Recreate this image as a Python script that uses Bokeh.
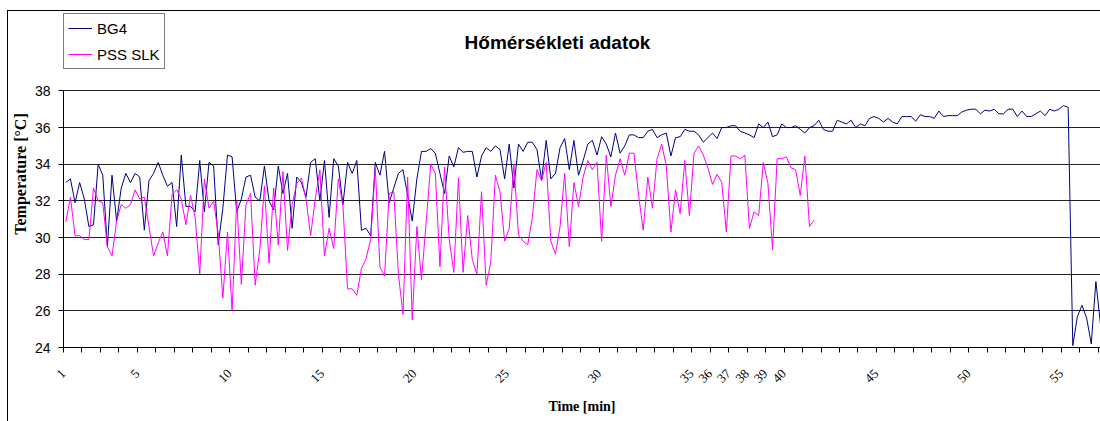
import math
from bokeh.plotting import figure
from bokeh.models import Range1d, FixedTicker, Legend, LegendItem, Label
from bokeh.embed import file_html
from bokeh.resources import INLINE

# ---- data (15-second samples, 4 per minute) ----
bg4 = [
    33.0, 33.2, 31.9, 33.0, 32.1, 30.6, 30.7, 34.0, 33.4, 29.5,
    33.4, 30.9, 32.7, 33.5, 33.0, 33.5, 33.3, 30.4, 33.1, 33.5,
    34.1, 33.4, 32.8, 33.0, 30.6, 34.5, 31.7, 31.7, 31.4, 34.2,
    31.4, 34.1, 33.9, 29.6, 31.6, 34.5, 34.4, 31.4, 32.1, 33.3,
    33.4, 32.2, 32.0, 33.9, 32.0, 31.5, 33.9, 32.4, 33.5, 30.5,
    33.3, 33.0, 32.2, 34.1, 34.3, 32.0, 34.2, 31.1, 34.3, 33.9,
    31.8, 34.1, 33.5, 34.2, 30.4, 30.5, 30.1, 34.1, 33.4, 34.7,
    31.9, 32.7, 33.5, 33.7, 32.3, 30.9, 33.2, 34.7, 34.7, 34.85,
    34.6, 33.5, 32.4, 34.45, 33.85, 34.9, 34.65, 34.7, 34.7, 33.3,
    34.45, 34.9, 34.7, 35.0, 34.8, 33.2, 35.1, 32.7, 35.1, 34.7,
    35.2, 35.2, 34.8, 33.15, 35.3, 33.2, 33.5, 34.9, 35.4, 33.7,
    35.3, 33.4, 34.2, 35.1, 35.3, 34.5, 35.5, 35.1, 34.4, 35.7,
    34.6, 35.0, 35.6, 35.6, 35.45, 35.45, 35.8, 35.9, 35.45, 35.6,
    35.7, 34.45, 35.45, 35.5, 35.9, 35.8, 35.8, 35.6, 35.2, 35.45,
    35.7, 35.4, 36.0, 36.0, 36.1, 36.1, 35.8, 35.7, 35.6, 35.45,
    36.2, 36.0, 36.3, 35.5, 35.6, 36.2, 36.0, 36.0, 36.1, 35.9,
    35.7, 36.0, 36.1, 36.4, 35.9, 35.8, 35.8, 36.4, 36.3, 36.2,
    36.4, 36.0, 36.2, 36.1, 36.5, 36.6, 36.5, 36.3, 36.5, 36.3,
    36.2, 36.6, 36.6, 36.6, 36.35, 36.7, 36.6, 36.6, 36.5, 36.9,
    36.6, 36.65, 36.65, 36.65, 36.85, 36.95, 37.0, 37.0, 36.75, 36.95,
    36.9, 37.0, 36.75, 36.75, 37.0, 37.0, 36.6, 36.9, 36.6, 36.6,
    36.75, 36.9, 36.65, 37.0, 36.9, 37.0, 37.2, 37.1, 24.1, 25.7,
    26.3, 25.6, 24.2, 27.6, 25.25,
]
pss_slk = [
    30.85, 32.2, 30.1, 30.1, 29.9, 29.9, 32.7, 32.0, 31.9, 29.5,
    29.0, 30.9, 31.8, 31.6, 31.8, 32.6, 32.1, 32.2, 30.6, 29.0,
    29.7, 30.3, 29.0, 32.35, 32.6, 32.1, 30.7, 32.3, 31.1, 28.0,
    33.2, 31.6, 32.0, 30.2, 26.7, 30.3, 26.0, 32.0, 27.45, 31.8,
    32.4, 27.4, 29.35, 32.8, 28.6, 32.7, 29.6, 33.6, 29.3, 31.8,
    32.95, 33.25, 32.1, 30.1, 32.1, 33.7, 29.0, 30.5, 29.4, 33.2,
    31.7, 27.2, 27.2, 26.85, 28.3, 28.85, 29.9, 33.8, 28.4, 27.9,
    32.4, 32.5, 28.0, 25.8, 33.3, 25.5, 30.6, 27.7, 30.8, 34.0,
    33.5, 28.4, 33.85, 29.9, 28.1, 33.25, 28.1, 31.2, 28.8, 28.0,
    32.5, 27.4, 28.65, 33.4, 32.5, 29.8, 30.5, 34.0, 30.15, 29.8,
    29.6, 31.1, 33.7, 33.1, 34.1, 29.8, 29.1, 30.6, 33.5, 29.5,
    33.0, 31.7, 33.3, 34.2, 33.7, 34.1, 29.8, 34.5, 31.7, 33.4,
    34.3, 33.4, 34.6, 34.6, 32.3, 30.4, 33.3, 31.6, 34.3, 35.1,
    33.9, 30.3, 32.6, 31.3, 34.2, 31.2, 34.6, 35.0, 34.5, 33.8,
    32.9, 33.45, 33.0, 30.3, 34.45, 34.45, 34.3, 34.5, 30.5, 31.4,
    31.2, 34.1, 32.95, 29.35, 34.3, 34.3, 34.4, 33.8, 33.7, 32.3,
    34.45, 30.6, 30.95,
]
samples_per_minute = 4
labelled_minutes = [1, 5, 10, 15, 20, 25, 30, 35, 36, 37, 38, 39, 40, 45, 50, 55]
y_ticks = [24, 26, 28, 30, 32, 34, 36, 38]

title_text = "Hőmérsékleti adatok"
series_names = ["BG4", "PSS SLK"]

# ---- layout ----
W, H = 1100, 421
left_px, bottom_px = 63, 74           # plot-area margins
px_per_deg = 256.6 / 14.0             # vertical scale of the reference
n_cat = len(bg4)
x_bg4 = [i + 0.5 for i in range(len(bg4))]
x_pss = [i + 0.5 for i in range(len(pss_slk))]

frame_h = H - bottom_px
y_top = y_ticks[0] + frame_h / px_per_deg
cat_px = (W - left_px) / (n_cat - 0.5)

p = figure(width=W, height=H,
           x_range=Range1d(0, n_cat - 0.5), y_range=Range1d(y_ticks[0], y_top),
           output_backend="svg", toolbar_location=None,
           min_border_left=left_px, min_border_right=0,
           min_border_top=0, min_border_bottom=bottom_px)
# chart-area border (left and top edges), drawn behind the transparent canvas
p.styles = {"background": "linear-gradient(#000,#000) 7px 10px / 1px 420px no-repeat, "
                          "linear-gradient(#000,#000) 7px 10px / 1100px 1px no-repeat, #ffffff"}
p.outline_line_color = None
p.background_fill_color = None
p.border_fill_color = None

r1 = p.line(x_bg4, bg4, line_color="#000080", line_width=1)
r2 = p.line(x_pss, pss_slk, line_color="#FF00FF", line_width=1)

# x axis: category ticks every minute
x_tick_vals = list(range(0, n_cat, samples_per_minute))
overrides = {t: "" for t in x_tick_vals}
for m in labelled_minutes:
    overrides[(m - 1) * samples_per_minute] = str(m)
p.xaxis.ticker = FixedTicker(ticks=x_tick_vals)
p.xaxis.major_label_overrides = overrides
p.xaxis.major_label_orientation = math.pi / 4
p.xaxis.major_label_text_font = "Liberation Serif"
p.xaxis.major_label_text_font_size = "13px"
p.xaxis.major_label_text_color = "black"
p.xaxis.major_label_standoff = 19
p.xaxis.axis_label = "Time [min]"
p.xaxis.axis_label_text_font = "Liberation Serif"
p.xaxis.axis_label_text_font_style = "bold"
p.xaxis.axis_label_text_font_size = "14px"
p.xaxis.axis_label_text_color = "black"
p.xaxis.axis_label_standoff = 10

p.yaxis.ticker = FixedTicker(ticks=y_ticks)
p.yaxis.bounds = (y_ticks[0], y_ticks[-1])
p.yaxis.major_label_text_font = "Liberation Sans"
p.yaxis.major_label_text_font_size = "14px"
p.yaxis.major_label_text_color = "black"
p.yaxis.major_label_standoff = 8
p.yaxis.axis_label = "Temperature [°C]"
p.yaxis.axis_label_text_font = "Liberation Serif"
p.yaxis.axis_label_text_font_style = "bold"
p.yaxis.axis_label_text_font_size = "16px"
p.yaxis.axis_label_text_color = "black"
p.yaxis.axis_label_standoff = 3

for ax in (p.xaxis, p.yaxis):
    ax.axis_line_color = "black"
    ax.major_tick_line_color = "black"
    ax.major_tick_in = 0
    ax.major_tick_out = 5
    ax.minor_tick_line_color = None

p.xgrid.grid_line_color = None
p.ygrid.ticker = FixedTicker(ticks=y_ticks[1:])
p.ygrid.grid_line_color = "#222222"
p.ygrid.grid_line_width = 1

# title, centred on the whole chart area
title_x = (W / 2 + 7 - left_px) / cat_px
title_y = y_ticks[0] + (H - bottom_px - 42) / px_per_deg
title = Label(x=title_x, y=title_y, text=title_text, text_align="center",
              text_baseline="middle", text_font="Liberation Sans",
              text_font_style="bold", text_font_size="19px", text_color="black")
p.add_layout(title)

legend = Legend(items=[LegendItem(label=series_names[0], renderers=[r1]),
                       LegendItem(label=series_names[1], renderers=[r2])],
                location=(0, H - bottom_px - 69))
legend.border_line_color = "black"
legend.border_line_width = 1
legend.background_fill_color = "white"
legend.background_fill_alpha = 1
legend.padding = 4
legend.margin = 0
legend.spacing = 6
legend.glyph_width = 24
legend.glyph_height = 20
legend.label_height = 20
legend.label_standoff = 5
legend.label_text_font = "Liberation Sans"
legend.label_text_font_size = "15px"
legend.label_text_color = "black"
p.add_layout(legend)

open("out.html", "w").write(file_html(p, INLINE))
